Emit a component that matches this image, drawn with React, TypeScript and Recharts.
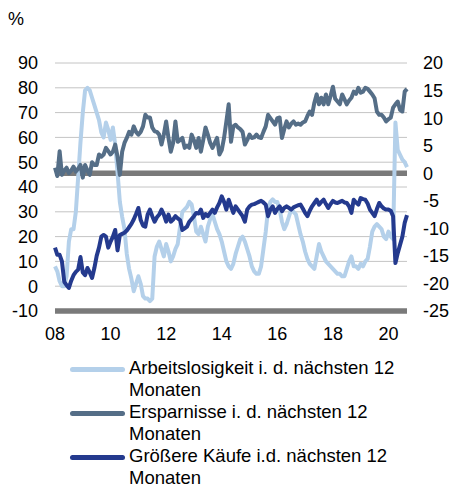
import React from 'react'
import { LineChart, Line, XAxis, YAxis, CartesianGrid, ReferenceLine } from 'recharts'

// Monatswerte Jan 2008 – Sep 2020 (Saldo, %)
const xTickLabels = ['08', '10', '12', '14', '16', '18', '20']
const xTickPositions = [0, 24, 48, 72, 96, 120, 144]
const leftTicks = [-10, 0, 10, 20, 30, 40, 50, 60, 70, 80, 90]
const rightTicks = [-25, -20, -15, -10, -5, 0, 5, 10, 15, 20]

// linke Achse
const arbeitslosigkeit = [
  8, 6, 2, 0, 0, 4, 18, 23, 23, 30, 44, 58, 70, 79, 80, 79, 76, 73, 70, 67,
  62, 60, 66, 63, 59, 64, 57, 46, 34, 28, 23, 13, 7, 3, -2, 1, 4, 1, -4, -5,
  -5, -6, -5, 12, 16, 18, 15, 12, 17, 14, 10, 12, 15, 17, 24, 30, 31, 32, 34, 33,
  28, 22, 21, 24, 21, 18, 24, 27, 29, 26, 23, 21, 18, 14, 10, 8, 7, 9, 13, 16,
  19, 20, 18, 15, 12, 8, 6, 5, 5, 8, 15, 22, 31, 34, 35, 34, 34, 31, 26, 23,
  25, 28, 31, 30, 29, 25, 21, 18, 14, 11, 9, 8, 7, 12, 17, 14, 12, 10, 9, 8,
  7, 6, 5, 5, 4, 4, 7, 10, 12, 8, 8, 7, 9, 8, 10, 11, 16, 22, 24, 25,
  24, 23, 20, 19, 22, 20, 19, 66, 55, 53, 51, 50, 48,
]

// rechte Achse
const ersparnisse = [
  1, -0.5, 4, -0.3, 0.5, 1, 0, 0.5, 1.2, 0.3, 0.8, 1.5, -0.8, 1.5, 0.5, -0.3, 2, 1.5, 1.5, 3.4,
  3, 3.4, 4.6, 4, 3.4, 3.9, 5.2, 3, -0.3, 3.9, 5.5, 6.4, 7.5, 7, 8.5, 7.5, 7, 7.5, 8.5, 10.6,
  10.1, 10.1, 8.3, 7.6, 7.5, 7, 5.2, 7, 9.4, 6.4, 3.9, 5.5, 9.4, 5.7, 6, 6.4, 4.6, 5, 4.6, 7,
  6, 4.6, 6.4, 3.9, 6, 8.3, 7, 5.5, 4.6, 5.5, 6.4, 3.4, 4.2, 6.4, 9.4, 12.5, 5.7, 8.5, 8.8, 8.3,
  8, 7.5, 5.2, 6, 7, 6.4, 6.5, 7, 6.5, 6.4, 7.5, 8.5, 10.6, 10, 9.4, 8.8, 10, 10.1, 6.4, 8,
  9.4, 8.3, 9, 9.4, 8.8, 9, 8.8, 9.2, 9.4, 10.4, 11.2, 10.6, 12.8, 14.3, 12.5, 13.7, 12.5, 14.3, 12.5, 14,
  15.7, 13.5, 13, 12.5, 14.3, 13.4, 12.5, 13.2, 13.7, 14.8, 14.4, 15.5, 14.6, 14.8, 15.5, 15.3, 14.8, 14.3, 13.6, 11.2,
  10.6, 10.6, 10.1, 9.4, 9.8, 10.1, 11.9, 12.5, 13, 11.5, 11.2, 14.8, 15.3,
]

// rechte Achse
const groessereKaeufe = [
  -13.5, -14.8, -14.8, -16, -19.7, -20.3, -20.8, -19.5, -18.5, -17.9, -17.5, -15.2, -18, -18.5, -17.2, -18, -19, -17.2, -15, -13.5,
  -11.5, -11.2, -11.5, -13.5, -12.4, -11.5, -10.3, -14, -11.2, -11, -10.8, -10.4, -9.8, -9.2, -8.4, -7.4, -6.3, -8.5, -9.5, -9.7,
  -7.5, -6.6, -7.8, -8.8, -8, -7.5, -6.6, -7.5, -8.8, -7.5, -8.8, -8.4, -7.8, -8.2, -8.5, -10.3, -10, -9.7, -8.8, -8.3,
  -7.8, -7.2, -7.3, -6.6, -8.1, -7.4, -7.8, -7.2, -6.6, -7.2, -6.2, -5.4, -4.2, -5.2, -6.6, -4.8, -6, -7.2, -6, -6.6,
  -7.2, -7.8, -8.8, -6.6, -6, -5.7, -5.6, -5.4, -5.2, -5, -5.3, -5.7, -7.8, -6.6, -6, -7.2, -6.5, -6, -6.9, -6.3,
  -6, -6.3, -6.6, -6.2, -6, -5.8, -5.7, -6.4, -7.2, -7.8, -6.8, -6, -5.4, -4.8, -5.7, -5.2, -4.8, -5.6, -6.3, -5.6,
  -5, -5.3, -5.4, -5.2, -5, -5.3, -5.4, -6, -7.2, -4.8, -5.3, -5.7, -4.5, -4.7, -4.8, -5.5, -6.6, -7.2, -7.8, -6.5,
  -5.4, -6, -6.4, -6.6, -6.6, -6.8, -7.8, -16.3, -14.5, -13, -11.5, -9, -7.6,
]

const seriesNames = [
  'Arbeitslosigkeit i. d. nächsten 12 Monaten',
  'Ersparnisse i. d. nächsten 12 Monaten',
  'Größere Käufe i.d. nächsten 12 Monaten',
]
const colors = ['#b4d0ea', '#556e87', '#243a8e']

const chartData = arbeitslosigkeit.map((v, i) => ({
  m: i,
  arbeit: v,
  spar: ersparnisse[i],
  kauf: groessereKaeufe[i],
}))

const font = '"Liberation Sans", Arial, sans-serif'
const tickStyle = { fill: '#000', fontSize: 18, fontFamily: font }

export default function App() {
  return (
    <div style={{ position: 'absolute', left: 0, top: 0, width: 451, height: 486, background: '#fff', fontFamily: font }}>
      <div style={{ position: 'absolute', left: 8, top: 9, fontSize: 18, color: '#000' }}>%</div>

      <LineChart width={451} height={355} data={chartData} margin={{ top: 63, right: 0, left: 0, bottom: 15 }}>
        <CartesianGrid yAxisId="left" horizontal vertical={false} stroke="#c4c4c4" strokeWidth={1} />

        <XAxis
          dataKey="m"
          type="number"
          domain={[0, 152]}
          ticks={xTickPositions}
          tickFormatter={(v) => xTickLabels[xTickPositions.indexOf(v)]}
          tick={tickStyle}
          axisLine={false}
          tickLine={false}
          tickSize={0}
          tickMargin={16}
          height={29}
        />
        <YAxis
          yAxisId="left"
          domain={[-10, 90]}
          ticks={leftTicks}
          tick={tickStyle}
          axisLine={false}
          tickLine={false}
          tickSize={0}
          tickMargin={17}
          width={55}
          interval={0}
        />
        <YAxis
          yAxisId="right"
          orientation="right"
          domain={[-25, 20]}
          ticks={rightTicks}
          tick={{ ...tickStyle, textAnchor: 'start' }}
          axisLine={false}
          tickLine={false}
          tickSize={0}
          tickMargin={16}
          width={44}
          interval={0}
        />

        <ReferenceLine yAxisId="right" y={0} stroke="#7a7a7a" strokeWidth={5.5} />
        <ReferenceLine yAxisId="left" y={-10} stroke="#7a7a7a" strokeWidth={5.5} />

        <Line yAxisId="left" type="linear" dataKey="arbeit" stroke={colors[0]} strokeWidth={4} dot={false} strokeLinejoin="round" isAnimationActive={false} />
        <Line yAxisId="right" type="linear" dataKey="spar" stroke={colors[1]} strokeWidth={4} dot={false} strokeLinejoin="round" isAnimationActive={false} />
        <Line yAxisId="right" type="linear" dataKey="kauf" stroke={colors[2]} strokeWidth={4} dot={false} strokeLinejoin="round" isAnimationActive={false} />
      </LineChart>

      {/* Legende */}
      <div style={{ position: 'absolute', left: 70, top: 357, fontSize: 18.5, lineHeight: '21.5px', color: '#000' }}>
        {seriesNames.map((name, i) => (
          <div key={name} style={{ display: 'flex', alignItems: 'flex-start', marginBottom: 1 }}>
            <div style={{ width: 55, height: 4.5, borderRadius: 2.5, background: colors[i], marginTop: 10, flexShrink: 0 }} />
            <div style={{ width: 290, marginLeft: 4 }}>{name}</div>
          </div>
        ))}
      </div>
    </div>
  )
}
